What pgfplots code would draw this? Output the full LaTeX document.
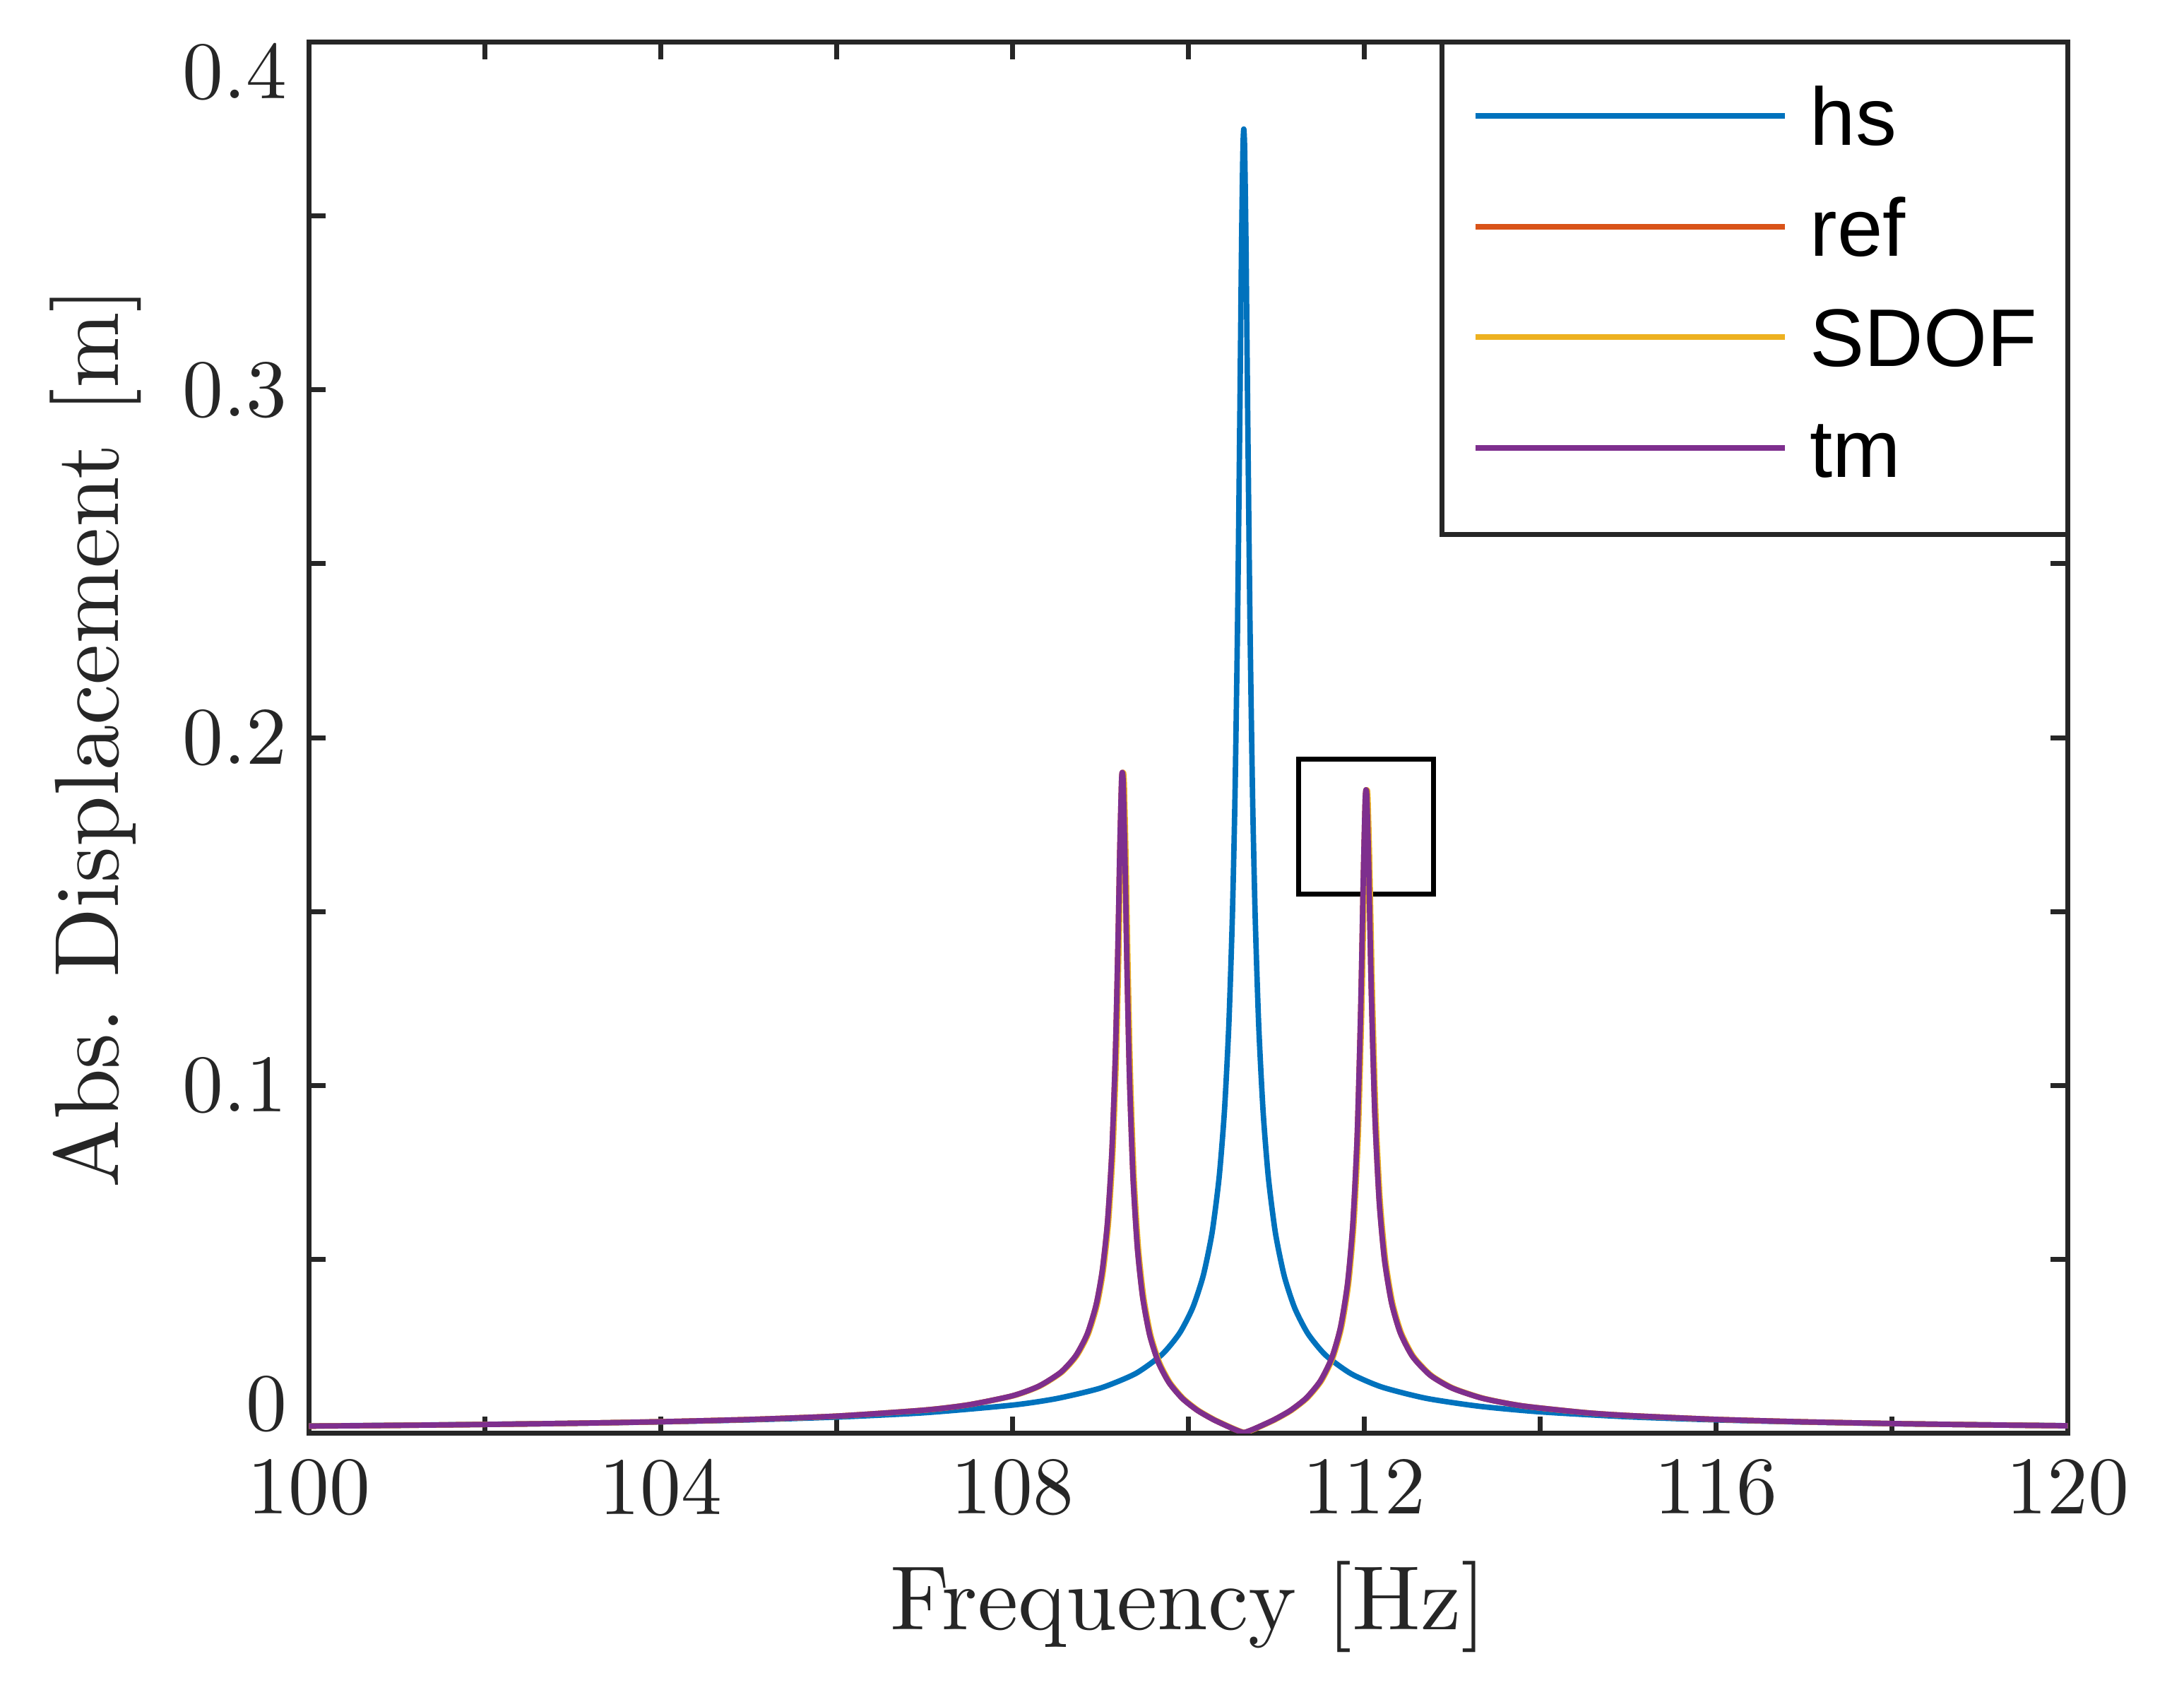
\documentclass[border=0pt]{standalone}
\usepackage{pgfplots}
\pgfplotsset{compat=1.18}
\usepackage{pgfplotstable}
\usepackage{fontspec}
\setmainfont{lmroman10-regular}[Extension=.otf]
\newfontfamily\legfont{Liberation Sans}
\definecolor{c1}{RGB}{0,114,189}
\definecolor{c2}{RGB}{217,83,25}
\definecolor{c3}{RGB}{237,177,32}
\definecolor{c4}{RGB}{126,47,142}
\definecolor{axc}{RGB}{38,38,38}

\pgfplotstableread{
f X
100 0.002075
101 0.002280
102 0.002532
103 0.002850
104 0.003265
105 0.003827
106 0.004632
107 0.005881
108 0.008078
108.5 0.009950
109 0.01297
109.4 0.01715
109.7 0.02263
109.9 0.02877
110.05 0.03613
110.17 0.04541
110.27 0.05772
110.35 0.07362
110.41 0.09259
110.46 0.1174
110.5 0.1484
110.53 0.1831
110.56 0.2343
110.585 0.2924
110.605 0.3426
110.62 0.3690
110.63 0.3750
110.64 0.3690
110.655 0.3424
110.675 0.2922
110.70 0.2343
110.73 0.1831
110.76 0.1483
110.80 0.1172
110.85 0.09242
110.91 0.07344
110.99 0.05754
111.09 0.04522
111.21 0.03594
111.36 0.02859
111.56 0.02244
111.85 0.01710
112.2 0.01327
112.7 0.01005
113.3 0.007769
114 0.006137
115 0.004712
116 0.003818
117 0.003204
118 0.002757
119 0.002417
120 0.002150
}\hsdata

\pgfplotstableread{
f X
100 0.002043
101 0.002252
102 0.002514
103 0.002851
104 0.003301
105 0.003938
106 0.004916
107 0.006645
107.5 0.008163
108 0.01076
108.3 0.01353
108.55 0.01753
108.72 0.02229
108.85 0.02852
108.95 0.03679
109.02 0.04655
109.08 0.06056
109.13 0.08086
109.17 0.1089
109.2 0.1415
109.22 0.1676
109.24 0.1875
109.25 0.1900
109.26 0.1862
109.28 0.1640
109.3 0.1364
109.33 0.1026
109.37 0.07396
109.42 0.05338
109.48 0.03918
109.56 0.02825
109.66 0.02030
109.78 0.01454
109.93 0.01002
110.1 0.006605
110.28 0.003971
110.45 0.001942
110.55 0.000851
110.63 0.0002
110.71 0.000849
110.81 0.001935
110.98 0.003943
111.16 0.006531
111.34 0.01009
111.5 0.01498
111.63 0.02160
111.73 0.03040
111.81 0.04296
111.87 0.05993
111.92 0.08564
111.96 0.1221
111.99 0.1605
112.01 0.1814
112.02 0.1850
112.03 0.1827
112.05 0.1640
112.08 0.1274
112.12 0.09195
112.17 0.06670
112.23 0.04994
112.31 0.03754
112.41 0.02885
112.55 0.02202
112.75 0.01667
113.0 0.01296
113.35 0.01001
113.8 0.007844
114.5 0.005941
115 0.005086
116 0.003969
117 0.003263
118 0.002772
119 0.002410
120 0.002131
}\tmdata

\pgfplotstableread{
f X
100 0.002043
101 0.002252
102 0.002514
103 0.002851
104 0.003301
105 0.003938
106 0.004916
107 0.006645
107.5 0.008163
108.012 0.01076
108.312 0.01353
108.562 0.01753
108.732 0.02229
108.862 0.02852
108.962 0.03679
109.032 0.04655
109.092 0.06056
109.142 0.08086
109.182 0.1089
109.212 0.1415
109.232 0.1676
109.252 0.1875
109.262 0.1900
109.272 0.1862
109.292 0.1640
109.312 0.1364
109.342 0.1026
109.382 0.07396
109.432 0.05338
109.492 0.03918
109.572 0.02825
109.672 0.02030
109.792 0.01454
109.942 0.01002
110.112 0.006605
110.292 0.003971
110.462 0.001942
110.562 0.000851
110.642 0.0002
110.722 0.000849
110.822 0.001935
110.992 0.003943
111.172 0.006531
111.352 0.01009
111.512 0.01498
111.642 0.02160
111.742 0.03040
111.822 0.04296
111.882 0.05993
111.932 0.08564
111.972 0.1221
112.002 0.1605
112.022 0.1814
112.032 0.1850
112.042 0.1827
112.062 0.1640
112.092 0.1274
112.132 0.09195
112.182 0.06670
112.242 0.04994
112.322 0.03754
112.422 0.02885
112.562 0.02202
112.762 0.01667
113.012 0.01296
113.362 0.01001
113.8 0.007844
114.5 0.005941
115 0.005086
116 0.003969
117 0.003263
118 0.002772
119 0.002410
120 0.002131
}\sdofdata

\begin{document}
\begin{tikzpicture}
\useasboundingbox (-2.193,-1.822) rectangle (13.307,10.169);
\begin{axis}[
  name=ax,
  at={(0,0)}, anchor=south west,
  scale only axis, width=12.482cm, height=9.870cm,
  xmin=100, xmax=120, ymin=0, ymax=0.4,
  axis line style={color=axc, line width=1pt},
  every tick/.style={color=axc, line width=1pt},
  major tick length=0.12cm,
  tick align=inside,
  tick pos=both,
  xtick={100,102,...,120},
  xticklabels={100,,104,,108,,112,,116,,120},
  ytick={0,0.05,0.1,0.15,0.2,0.25,0.3,0.35,0.4},
  yticklabels={,,0.1,,0.2,,0.3,,},
  ticklabel style={font=\fontsize{16.5}{19}\selectfont, text=axc},
  xticklabel style={inner sep=0pt, anchor=north, yshift=-0.178cm},
  yticklabel style={inner sep=0pt, anchor=east, xshift=-0.148cm},
  xlabel={Frequency [Hz]},
  ylabel={Abs.\ Displacement [m]},
  label style={font=\fontsize{18.4}{21}\selectfont, text=axc},
  xlabel style={at={(axis description cs:0.5,-0.14144)}, anchor=base},
  ylabel style={at={(axis description cs:-0.10824,0.5)}, anchor=base},
  legend style={at={(1,1)}, anchor=north east, draw=axc, line width=1pt, fill=white,
    outer sep=0pt,
    font=\legfont\fontsize{16.5}{19}\selectfont,
    inner xsep=0.217cm, inner ysep=0.31cm, row sep=0.264cm, column sep=0.16cm,
    nodes={inner sep=0pt, text height=12pt, text depth=0.2pt}},
  legend cell align=left,
  legend image code/.code={\draw[#1, line width=1.1pt] (0cm,0cm) -- (2.197cm,0cm); \path (0cm,-0.287cm);},
]
\draw[black, line width=1pt] (axis cs:111.253,0.155) rectangle (axis cs:112.787,0.1938);
\addplot[c1, line width=1.1pt, line join=round, smooth, tension=0.4] table[x=f, y=X] {\hsdata};
\addlegendentry{hs}
\addplot[c2, line width=1.1pt, line join=round, smooth, tension=0.4] table[x=f, y=X] {\tmdata};
\addlegendentry{ref}
\addplot[c3, line width=1.1pt, line join=round, smooth, tension=0.4] table[x=f, y=X] {\sdofdata};
\addlegendentry{SDOF}
\addplot[c4, line width=1.1pt, line join=round, smooth, tension=0.4] table[x=f, y=X] {\tmdata};
\addlegendentry{tm}
\end{axis}
\node[anchor=south east, inner sep=0pt, xshift=-0.148cm, font=\fontsize{16.5}{19}\selectfont, text=axc] at (0,0) {0};
\node[anchor=north east, inner sep=0pt, xshift=-0.148cm, font=\fontsize{16.5}{19}\selectfont, text=axc] at (0,9.870) {0.4};
\end{tikzpicture}
\end{document}
